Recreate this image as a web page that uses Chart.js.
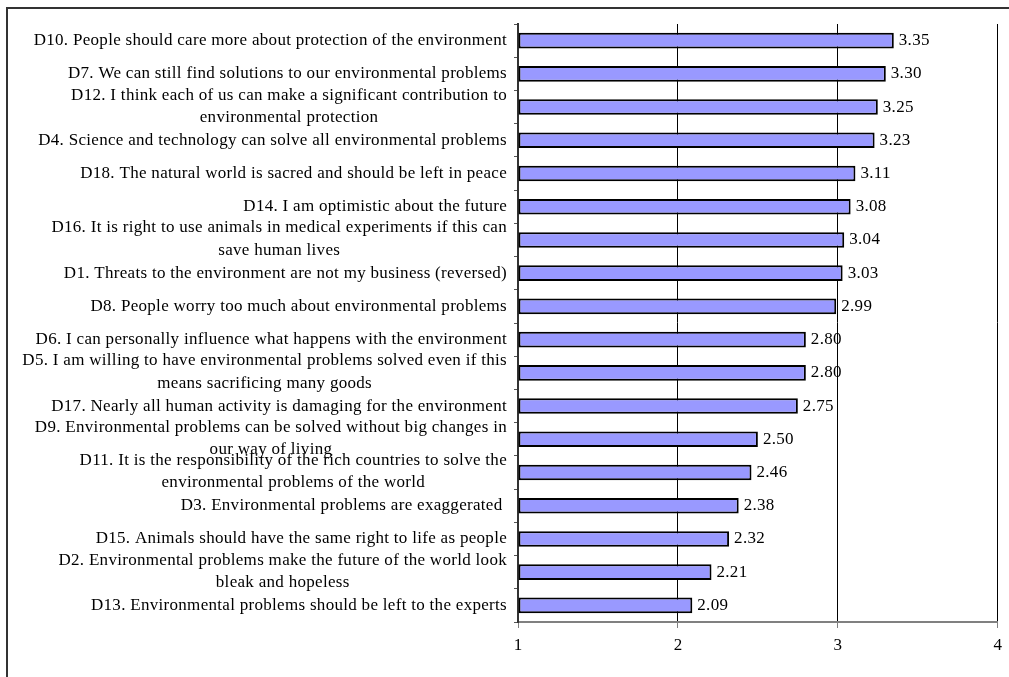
<!DOCTYPE html>
<html>
<head>
<meta charset="utf-8">
<script src="https://cdn.jsdelivr.net/npm/chart.js@4"></script>
<style>
  html, body { margin: 0; padding: 0; background: #fff; }
  #wrap { position: relative; width: 1009px; height: 677px; overflow: hidden; }
  #frame { position: absolute; left: 6px; top: 7px; width: 1100px; height: 800px;
           border-left: 2px solid #333; border-top: 2px solid #333; }
  canvas { position: absolute; left: 0; top: 0; }
</style>
</head>
<body>
<div id="wrap">
  <div id="frame"></div>
  <canvas id="myChart" width="1009" height="677"></canvas>
</div>
<script>
const labels = [
  "D10. People should care more about protection of the environment",
  "D7. We can still find solutions to our environmental problems",
  ["D12. I think each of us can make a significant contribution to", "environmental protection"],
  "D4. Science and technology can solve all environmental problems",
  "D18. The natural world is sacred and should be left in peace",
  "D14. I am optimistic about the future",
  ["D16. It is right to use animals in medical experiments if this can", "save human lives"],
  "D1. Threats to the environment are not my business (reversed)",
  "D8. People worry too much about environmental problems",
  "D6. I can personally influence what happens with the environment",
  ["D5. I am willing to have environmental problems solved even if this", "means sacrificing many goods"],
  "D17. Nearly all human activity is damaging for the environment",
  ["D9. Environmental problems can be solved without big changes in", "our way of living"],
  ["D11. It is the responsibility of the rich countries to solve the", "environmental problems of the world"],
  "D3. Environmental problems are exaggerated ",
  "D15. Animals should have the same right to life as people",
  ["D2. Environmental problems make the future of the world look", "bleak and hopeless"],
  "D13. Environmental problems should be left to the experts"
];

const values = [3.35, 3.30, 3.25, 3.23, 3.11, 3.08, 3.04, 3.03, 2.99,
                2.80, 2.80, 2.75, 2.50, 2.46, 2.38, 2.32, 2.21, 2.09];

const FONT = "17px 'Liberation Serif', 'Times New Roman', serif";

// category labels (right-aligned block, wrapped lines centered) + value labels
const textPlugin = {
  id: "textPlugin",
  afterDatasetsDraw(chart) {
    const ctx = chart.ctx;
    const yScale = chart.scales.y;
    ctx.save();
    ctx.font = FONT;
    ctx.letterSpacing = "0.3px";
    ctx.fillStyle = "#000";
    ctx.textBaseline = "middle";
    ctx.textAlign = "center";
    labels.forEach((lab, i) => {
      const cy = yScale.getPixelForValue(i);
      const lines = Array.isArray(lab) ? lab : [lab];
      const w = Math.max(...lines.map((l) => ctx.measureText(l).width));
      const cx = yScale.right - 11 - w / 2;
      if (lines.length == 1) {
        ctx.fillText(lines[0], cx, cy);
      } else {
        ctx.fillText(lines[0], cx, cy - 12);
        ctx.fillText(lines[1], cx, cy + 10.5);
      }
    });

    ctx.textAlign = "left";
    const meta = chart.getDatasetMeta(0);
    meta.data.forEach((bar, i) => {
      ctx.fillText(values[i].toFixed(2), bar.x + 5, bar.y);
    });
    ctx.restore();
  },
};

new Chart("myChart", {
  type: "bar",
  data: {
    labels: labels,
    datasets: [
      {
        data: values,
        base: 1,
        backgroundColor: "#9999FF",
        borderColor: "#000",
        borderWidth: 2,
        borderSkipped: false,
        barPercentage: 0.47,
        categoryPercentage: 1,
      },
    ],
  },
  options: {
    indexAxis: "y",
    responsive: false,
    animation: false,
    layout: { padding: { top: 24, right: 11, left: 0, bottom: 0 } },
    plugins: {
      legend: { display: false },
      tooltip: { enabled: false },
    },
    scales: {
      x: {
        min: 1,
        max: 4,
        ticks: {
          stepSize: 1,
          color: "#000",
          font: { family: "'Liberation Serif', serif", size: 17 },
          padding: 7,
        },
        grid: { color: "#000", lineWidth: 1, tickLength: 6, tickColor: "#808080" },
        border: { color: "#808080", width: 2 },
        afterFit(scale) {
          scale.height = 55;
        },
      },
      y: {
        ticks: { display: false },
        grid: { drawOnChartArea: false, tickLength: 4, color: "#555", offset: true },
        border: { color: "#333", width: 2 },
        afterFit(scale) {
          scale.width = 518;
        },
      },
    },
  },
  plugins: [textPlugin],
});
</script>
</body>
</html>
